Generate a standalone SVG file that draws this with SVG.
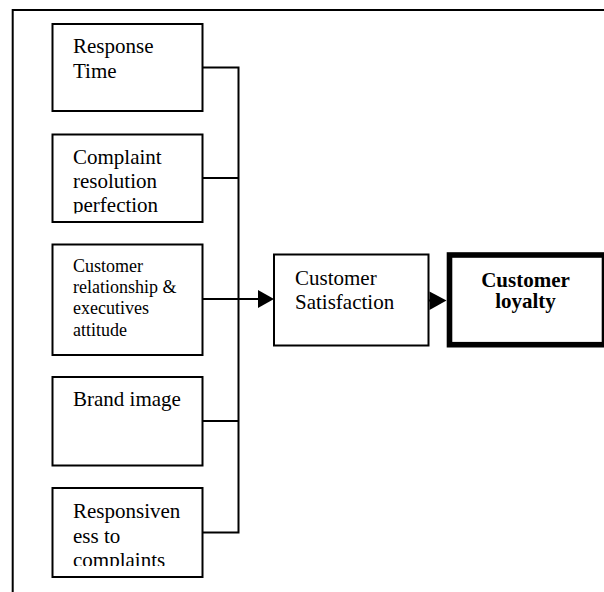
<svg xmlns="http://www.w3.org/2000/svg" width="604" height="592" viewBox="0 0 604 592">
<style>
.box{fill:#fff;stroke:#000;stroke-width:2}
.t{font-family:"Liberation Serif","Times New Roman",serif;font-size:21px;fill:#000}
.s{font-size:18px}
.b{font-weight:bold;text-anchor:middle}
.c{fill:none;stroke:#000;stroke-width:2}
</style>
<defs>
<clipPath id="clip2"><rect x="0" y="0" width="604" height="213.5"/></clipPath>
<clipPath id="clip5"><rect x="0" y="0" width="604" height="566"/></clipPath>
</defs>
<rect id="frame" x="12.7" y="10" width="600" height="600" fill="none" stroke="#000" stroke-width="2"/>
<g id="connectors">
<polyline class="c" points="202.5,67.5 238.5,67.5 238.5,532.5 202.5,532.5"/>
<line class="c" x1="202.5" y1="178" x2="238.5" y2="178"/>
<line class="c" x1="202.5" y1="421" x2="238.5" y2="421"/>
<line class="c" x1="202.5" y1="299" x2="260" y2="299"/>
<polygon points="258,290 274,299 258,308" fill="#000"/>
<line class="c" x1="428.5" y1="300.5" x2="432" y2="300.5"/>
<polygon points="429.5,291.5 446.5,300.5 429.5,310" fill="#000"/>
</g>
<g id="n1">
<rect class="box" x="52.5" y="24" width="150" height="87"/>
<text class="t" x="73" y="53.3">Response</text>
<text class="t" x="73" y="77.7">Time</text>
</g>
<g id="n2">
<rect class="box" x="52.5" y="134.5" width="150" height="87.5"/>
<text class="t" x="73" y="164.3">Complaint</text>
<text class="t" x="73" y="188.3">resolution</text>
<text class="t" x="73" y="212.3" clip-path="url(#clip2)">perfection</text>
</g>
<g id="n3">
<rect class="box" x="52.5" y="244.5" width="150" height="110.5"/>
<text class="t s" x="73" y="271.7">Customer</text>
<text class="t s" x="73" y="293.3">relationship &amp;</text>
<text class="t s" x="73" y="314.3">executives</text>
<text class="t s" x="73" y="336">attitude</text>
</g>
<g id="n4">
<rect class="box" x="52.5" y="377" width="150" height="88.5"/>
<text class="t" x="73" y="406">Brand image</text>
</g>
<g id="n5">
<rect class="box" x="52.5" y="488" width="150" height="89"/>
<text class="t" x="73" y="518">Responsiven</text>
<text class="t" x="73" y="542.7">ess to</text>
<text class="t" x="73" y="566.7" clip-path="url(#clip5)">complaints</text>
</g>
<g id="n6">
<rect class="box" x="274" y="254.5" width="154.5" height="91"/>
<text class="t" x="295" y="285">Customer</text>
<text class="t" x="295" y="309">Satisfaction</text>
</g>
<g id="n7">
<rect x="449.5" y="255" width="155" height="89.7" fill="#fff" stroke="#000" stroke-width="5.6"/>
<text class="t b" x="525.5" y="286.7">Customer</text>
<text class="t b" x="525.5" y="308.3">loyalty</text>
</g>
</svg>
